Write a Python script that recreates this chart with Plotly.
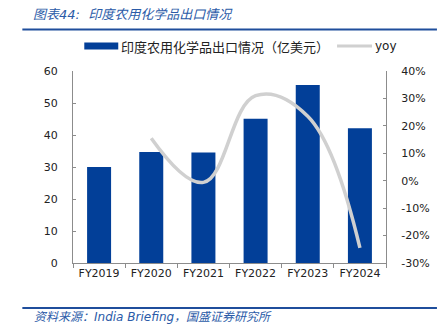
import plotly.graph_objects as go

categories = ["FY2019", "FY2020", "FY2021", "FY2022", "FY2023", "FY2024"]
exports = [30.0, 34.7, 34.5, 45.1, 55.6, 42.1]
yoy_categories = ["FY2020", "FY2021", "FY2022", "FY2023", "FY2024"]
yoy = [15.5, -0.6, 31.0, 23.5, -24.5]
left_ticks = [0, 10, 20, 30, 40, 50, 60]
right_ticks = [-30, -20, -10, 0, 10, 20, 30, 40]
right_labels = ["-30%", "-20%", "-10%", "0%", "10%", "20%", "30%", "40%"]

bar_name = "印度农用化学品出口情况（亿美元）"
line_name = "yoy"
title_text = "图表44:  印度农用化学品出口情况"
source_text = "资料来源：India Briefing，国盛证券研究所"

W, H = 447, 335
X0, X1 = 72.7, 386.0
YT, YB = 71.0, 263.0


def px(x):
    return (x - X0) / (X1 - X0)


def py(y):
    return (YB - y) / (YB - YT)


BLUE = "#023F98"
GRAY = "#D0D0D0"
TXT_BLUE = "#2B5BA8"
LINE_BLUE = "#1F4E9C"
AX = "#8C8C8C"
FONT = "DejaVu Sans, Noto Sans CJK SC"

fig = go.Figure()
fig.add_trace(go.Bar(x=categories, y=exports, marker=dict(color=BLUE, line=dict(width=0)),
                     width=0.46, name=bar_name, showlegend=False))
fig.add_trace(go.Scatter(x=yoy_categories, y=yoy, mode="lines", yaxis="y2",
                         line=dict(color=GRAY, width=3.5, shape="spline", smoothing=1.15),
                         name=line_name, showlegend=False))

shapes = [
    dict(type="line", xref="paper", yref="paper", x0=px(22), x1=px(437), y0=py(29.5), y1=py(29.5),
         line=dict(color=LINE_BLUE, width=2)),
    dict(type="line", xref="paper", yref="paper", x0=px(22), x1=px(437), y0=py(308), y1=py(308),
         line=dict(color=LINE_BLUE, width=2)),
    dict(type="rect", xref="paper", yref="paper", x0=px(84), x1=px(118), y0=py(49.5), y1=py(42.5),
         fillcolor=BLUE, line=dict(width=0)),
    dict(type="line", xref="paper", yref="paper", x0=px(337), x1=px(372), y0=py(46), y1=py(46),
         line=dict(color=GRAY, width=3)),
]

annotations = [
    dict(text="<i>" + title_text + "</i>", xref="paper", yref="paper", x=px(31), y=py(15),
         xanchor="left", yanchor="middle", showarrow=False,
         font=dict(family=FONT, size=13, color=TXT_BLUE)),
    dict(text="<i>" + source_text + "</i>", xref="paper", yref="paper", x=px(32), y=py(317),
         xanchor="left", yanchor="middle", showarrow=False,
         font=dict(family=FONT, size=12, color=TXT_BLUE)),
    dict(text=bar_name, xref="paper", yref="paper", x=px(119), y=py(46),
         xanchor="left", yanchor="middle", showarrow=False,
         font=dict(family="Noto Sans CJK SC", size=13, color="#222222")),
    dict(text=line_name, xref="paper", yref="paper", x=px(373), y=py(46),
         xanchor="left", yanchor="middle", showarrow=False,
         font=dict(family=FONT, size=12, color="#222222")),
]

fig.update_layout(
    width=W, height=H,
    margin=dict(l=X0, r=W - X1, t=YT, b=H - YB, pad=0),
    paper_bgcolor="white", plot_bgcolor="white",
    bargap=0.54,
    font=dict(family=FONT, size=11, color="#222222"),
    xaxis=dict(type="category", categoryorder="array", categoryarray=categories,
               showline=True, linecolor=AX, linewidth=1, ticks="outside", tickson="boundaries",
               ticklen=4, tickcolor=AX, showgrid=False, tickfont=dict(size=11, color="#222222"),
               range=[-0.5, 5.5]),
    yaxis=dict(range=[0, 60], tickvals=left_ticks, showline=True, linecolor=AX, linewidth=1,
               ticks="inside", ticklen=3, tickcolor=AX, showgrid=False, zeroline=False,
               tickfont=dict(size=11, color="#222222"), ticklabelstandoff=12),
    yaxis2=dict(range=[-30, 40], tickvals=right_ticks, ticktext=right_labels, overlaying="y",
                side="right", showline=True, linecolor=AX, linewidth=1, ticks="inside", ticklen=3,
                tickcolor=AX, showgrid=False, zeroline=False,
                tickfont=dict(size=11, color="#222222"), ticklabelstandoff=12),
    shapes=shapes,
    annotations=annotations,
)

fig.write_html("out.html")
